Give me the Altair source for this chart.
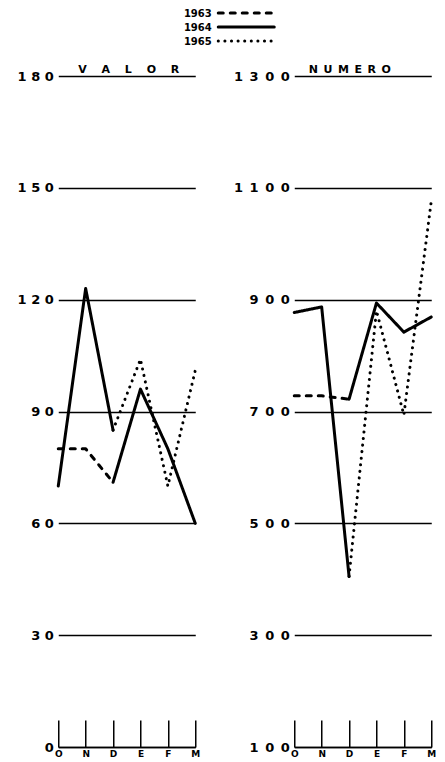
import altair as alt
import pandas as pd

months = ["O", "N", "D", "E", "F", "M"]
years = ["1963", "1964", "1965"]

# VALOR  (O, N, D of first year / E, F, M of following year)
valor_1963_ond = [80, 80, 71]
valor_1964_efm = [96, 80, 60]
valor_1964_ond = [70, 123, 85]
valor_1965_efm = [104, 70, 101]

# NUMERO
numero_1963_ond = [728, 728, 722]
numero_1964_efm = [894, 842, 869]
numero_1964_ond = [877, 887, 405]
numero_1965_efm = [880, 694, 1076]

valor_ticks = [0, 30, 60, 90, 120, 150, 180]
numero_ticks = [100, 300, 500, 700, 900, 1100, 1300]

FONT = "DejaVu Sans"
W, H = 137, 671
dash_scale = alt.Scale(domain=years, range=[[5, 7], [1, 0], [0.1, 6.5]])
width_scale = alt.Scale(domain=years, range=[3, 3, 4])


def season_rows(first, second, y1, y2, tag):
    rows = []
    for i, v in enumerate(first):
        rows.append(dict(seg=tag + "a", year=y1, month=months[i], idx=i, value=v))
    # segment D -> E drawn in the style of the following year
    rows.append(dict(seg=tag + "b", year=y2, month=months[2], idx=2, value=first[2]))
    for j, v in enumerate(second):
        rows.append(dict(seg=tag + "b", year=y2, month=months[3 + j], idx=3 + j, value=v))
    return rows


valor_df = pd.DataFrame(
    season_rows(valor_1963_ond, valor_1964_efm, "1963", "1964", "s1")
    + season_rows(valor_1964_ond, valor_1965_efm, "1964", "1965", "s2")
)
numero_df = pd.DataFrame(
    season_rows(numero_1963_ond, numero_1964_efm, "1963", "1964", "s1")
    + season_rows(numero_1964_ond, numero_1965_efm, "1964", "1965", "s2")
)


def panel(df, domain, ticks, sep, title, dx):
    lines = alt.Chart(df).mark_line(
        color="black", strokeCap="round", strokeJoin="round"
    ).encode(
        x=alt.X(
            "month:N", sort=months,
            scale=alt.Scale(type="point", domain=months, padding=0),
            axis=alt.Axis(
                orient="bottom", title=None, ticks=False, domain=True,
                domainColor="black", domainWidth=1.5, labelAngle=0,
                labelFont=FONT, labelFontWeight="bold", labelFontSize=9,
                labelPadding=2, labelColor="black", grid=False,
            ),
        ),
        y=alt.Y(
            "value:Q",
            scale=alt.Scale(domain=domain, nice=False, zero=False),
            axis=alt.Axis(
                values=ticks, format="d", title=None, grid=True,
                gridColor="black", gridWidth=1.3, domain=False, ticks=False,
                labelPadding=5, labelFont=FONT, labelFontWeight="bold",
                labelFontSize=13, labelColor="black",
                labelExpr="join(split(datum.label, ''), '" + sep + "')",
            ),
        ),
        strokeDash=alt.StrokeDash("year:N", scale=dash_scale, legend=None),
        strokeWidth=alt.StrokeWidth("year:N", scale=width_scale, legend=None),
        detail="seg:N",
        order="idx:Q",
    )
    tick_df = pd.DataFrame({"month": months})
    tick_layer = alt.Chart(tick_df).mark_point(opacity=0).encode(
        x=alt.X(
            "month:N", sort=months,
            axis=alt.Axis(
                orient="top", offset=-H, title=None, labels=False,
                domain=False, ticks=True, tickSize=27, tickWidth=1.5,
                tickColor="black", grid=False,
            ),
        ),
    )
    return alt.layer(lines, tick_layer).resolve_axis(x="independent").properties(
        width=W, height=H,
        title=alt.TitleParams(
            text=title, font=FONT, fontSize=11, fontWeight="bold",
            color="black", anchor="middle", offset=-5, dx=dx,
        ),
    )


left = panel(valor_df, [0, 180], valor_ticks, " ", "V\u2003 A\u2003 L\u2003 O\u2003 R", 2)
right = panel(numero_df, [100, 1300], numero_ticks, "\u2002", "N\u2002U\u2002M\u2002E\u2002R\u2002O", -13)

leg_df = pd.DataFrame({"year": years})
legend = alt.Chart(leg_df).mark_rule(
    color="black", strokeCap="round"
).encode(
    y=alt.Y(
        "year:N", sort=years, scale=alt.Scale(type="point", padding=0),
        axis=alt.Axis(
            title=None, ticks=False, domain=False, labelFont=FONT,
            labelFontWeight="bold", labelFontSize=10, labelPadding=7,
            labelColor="black",
        ),
    ),
    x=alt.value(0),
    x2=alt.value(56),
    strokeDash=alt.StrokeDash("year:N", scale=dash_scale, legend=None),
    strokeWidth=alt.StrokeWidth("year:N", scale=width_scale, legend=None),
).properties(width=56, height=28)

chart = alt.vconcat(
    legend,
    alt.hconcat(left, right, spacing=33),
    spacing=18,
    center=True,
).properties(
    padding={"left": 9, "top": 0, "right": 0, "bottom": 0}
).configure(font=FONT).configure_view(stroke=None)

chart.save("out.html", embed_options={"renderer": "svg", "actions": False})
